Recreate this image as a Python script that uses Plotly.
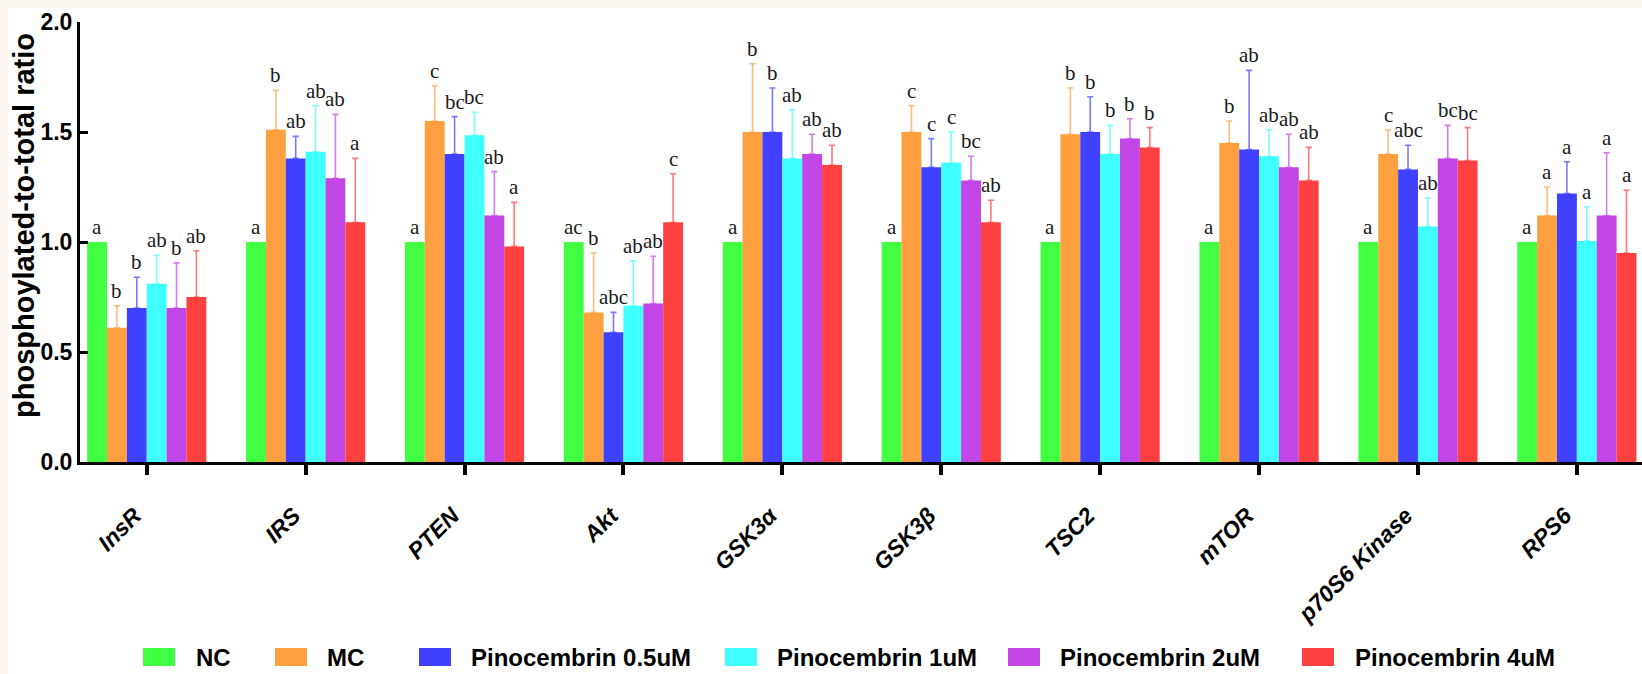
import plotly.graph_objects as go

categories = ["InsR", "IRS", "PTEN", "Akt", "GSK3α", "GSK3β", "TSC2", "mTOR", "p70S6 Kinase", "RPS6"]
series_names = ["NC", "MC", "Pinocembrin 0.5uM", "Pinocembrin 1uM", "Pinocembrin 2uM", "Pinocembrin 4uM"]

nc_vals = [1.00, 1.00, 1.00, 1.00, 1.00, 1.00, 1.00, 1.00, 1.00, 1.00]
nc_err = [0, 0, 0, 0, 0, 0, 0, 0, 0, 0]
mc_vals = [0.61, 1.51, 1.55, 0.68, 1.50, 1.50, 1.49, 1.45, 1.40, 1.12]
mc_err = [0.10, 0.18, 0.16, 0.27, 0.31, 0.12, 0.21, 0.10, 0.11, 0.13]
p05_vals = [0.70, 1.38, 1.40, 0.59, 1.50, 1.34, 1.50, 1.42, 1.33, 1.22]
p05_err = [0.14, 0.10, 0.17, 0.09, 0.20, 0.13, 0.16, 0.36, 0.11, 0.145]
p1_vals = [0.81, 1.41, 1.485, 0.71, 1.38, 1.36, 1.40, 1.39, 1.07, 1.005]
p1_err = [0.13, 0.21, 0.105, 0.205, 0.22, 0.14, 0.13, 0.12, 0.13, 0.155]
p2_vals = [0.70, 1.29, 1.12, 0.72, 1.40, 1.28, 1.47, 1.34, 1.38, 1.12]
p2_err = [0.205, 0.29, 0.20, 0.215, 0.09, 0.11, 0.09, 0.15, 0.15, 0.285]
p4_vals = [0.75, 1.09, 0.98, 1.09, 1.35, 1.09, 1.43, 1.28, 1.37, 0.95]
p4_err = [0.21, 0.29, 0.20, 0.22, 0.09, 0.10, 0.09, 0.15, 0.15, 0.285]

nc_letters = ["a", "a", "a", "ac", "a", "a", "a", "a", "a", "a"]
mc_letters = ["b", "b", "c", "b", "b", "c", "b", "b", "c", "a"]
p05_letters = ["b", "ab", "bc", "abc", "b", "c", "b", "ab", "abc", "a"]
p1_letters = ["ab", "ab", "bc", "ab", "ab", "c", "b", "ab", "ab", "a"]
p2_letters = ["b", "ab", "ab", "ab", "ab", "bc", "b", "ab", "bc", "a"]
p4_letters = ["ab", "a", "a", "c", "ab", "ab", "b", "ab", "bc", "a"]

colors = ["#42FF42", "#FFA040", "#4040FF", "#40FFFF", "#C245E6", "#FF4040"]
err_colors = ["rgba(66,255,66,0.7)", "rgba(255,160,64,0.7)", "rgba(64,64,255,0.7)",
              "rgba(64,255,255,0.7)", "rgba(194,69,230,0.7)", "rgba(255,64,64,0.7)"]

values = [nc_vals, mc_vals, p05_vals, p1_vals, p2_vals, p4_vals]
errors = [nc_err, mc_err, p05_err, p1_err, p2_err, p4_err]
letters = [nc_letters, mc_letters, p05_letters, p1_letters, p2_letters, p4_letters]

W, H = 1642, 674
ML, MR, MT, MB = 80, 0, 22, 212
PW, PH = W - ML - MR, H - MT - MB


def px(x):
    return (x - ML) / PW


def py(y):
    return (H - MB - y) / PH


fig = go.Figure()
for k in range(6):
    fig.add_trace(go.Bar(
        x=categories, y=values[k], name=series_names[k],
        marker=dict(color=colors[k], line=dict(width=0)),
        error_y=dict(type="data", array=errors[k], arrayminus=[0] * len(categories),
                     symmetric=False, visible=(k > 0), color=err_colors[k],
                     thickness=1.6, width=3),
        showlegend=False,
    ))

n = len(series_names)
bargap = 0.25
bw = (1 - bargap) / n
annotations = []
for k in range(n):
    for i in range(len(categories)):
        xoff = -(1 - bargap) / 2 + bw * (k + 0.5)
        annotations.append(dict(
            x=i + xoff, y=values[k][i] + errors[k][i], xref="x", yref="y",
            text=letters[k][i], showarrow=False, yanchor="bottom", xanchor="center",
            yshift=1, font=dict(family="Liberation Serif", size=21, color="#1a1a1a"),
        ))

# y-axis title
annotations.append(dict(
    x=px(24), y=py(226), xref="paper", yref="paper", text="phosphoylated-to-total ratio",
    textangle=-90, showarrow=False, xanchor="center", yanchor="middle",
    font=dict(family="Liberation Sans", size=29, color="black", weight="bold"),
))

# custom legend
rect_x = [143, 275, 419, 725, 1008, 1302]
text_x = [194, 325, 469, 775, 1058, 1353]
shapes = []
for k in range(n):
    shapes.append(dict(type="rect", xref="paper", yref="paper",
                       x0=px(rect_x[k]), x1=px(rect_x[k] + 32), y0=py(666), y1=py(648),
                       fillcolor=colors[k], line=dict(width=0)))
    annotations.append(dict(x=px(text_x[k]), y=py(657), xref="paper", yref="paper",
                            text=series_names[k], showarrow=False, xanchor="left", yanchor="middle",
                            font=dict(family="Liberation Sans", size=24, color="black", weight="bold")))

# faint border strips of the original image
shapes.append(dict(type="rect", xref="paper", yref="paper", x0=px(0), x1=px(W), y0=py(8), y1=py(0),
                   fillcolor="#FDF7F2", line=dict(width=0), layer="below"))
shapes.append(dict(type="rect", xref="paper", yref="paper", x0=px(0), x1=px(8), y0=py(H), y1=py(0),
                   fillcolor="#FDF7F2", line=dict(width=0), layer="below"))

fig.update_layout(
    width=W, height=H,
    margin=dict(l=ML, r=MR, t=MT, b=MB, pad=0),
    paper_bgcolor="white", plot_bgcolor="white",
    barmode="group", bargap=bargap, bargroupgap=0,
    annotations=annotations, shapes=shapes,
    xaxis=dict(
        range=[-0.42, 9.41], showline=True, linecolor="black", linewidth=3,
        ticks="outside", ticklen=10, tickwidth=4, tickcolor="black",
        tickangle=-45, showgrid=False, zeroline=False,
        ticklabelshift=-12, ticklabelstandoff=18,
        tickfont=dict(family="Liberation Sans", size=23, color="black", weight="bold", style="italic"),
    ),
    yaxis=dict(
        range=[0, 2.0], tickvals=[0, 0.5, 1.0, 1.5, 2.0], ticktext=["0.0", "0.5", "1.0", "1.5", "2.0"],
        showline=True, linecolor="black", linewidth=3,
        ticks="inside", ticklen=8, tickwidth=3, tickcolor="black",
        showgrid=False, zeroline=False,
        tickfont=dict(family="Liberation Sans Narrow, Liberation Sans", size=23, color="black", weight="bold"),
    ),
)

fig.write_html(
    "out.html",
    config={"displayModeBar": False},
    post_script="document.body.style.margin='0';document.body.style.overflow='hidden';",
)
